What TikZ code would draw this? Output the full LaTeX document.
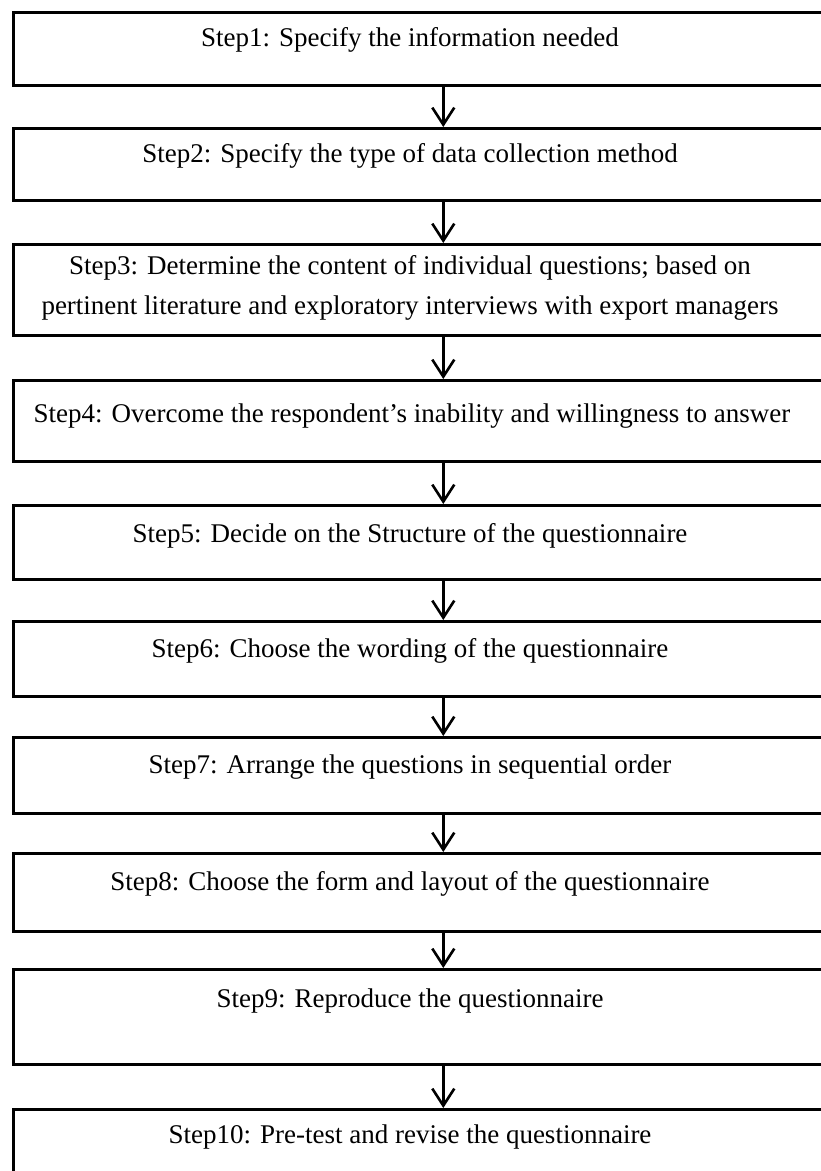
\documentclass[tikz,border=0pt]{standalone}
\usepackage{fontspec}
\setmainfont{Liberation Serif}
\usetikzlibrary{arrows.meta}
\begin{document}
\begin{tikzpicture}[x=1pt,y=-1pt,
  stepbox/.style={draw=black, line width=2.6pt, minimum width=860pt, inner sep=0pt},
  steplabel/.style={font=\fontsize{27}{40}\selectfont, align=center, inner sep=0pt},
  flow/.style={line width=2.6pt, -{Straight Barb[length=17pt,width=22pt]}}]
\useasboundingbox (0,0) rectangle (820,1171);
% boxes: (name, top, bottom)
\foreach \n/\t/\b in {1/11/84, 2/127/199, 3/243/334, 4/379/460, 5/504/578,
                      6/620/695, 7/736/812, 8/852/930, 9/968/1063, 10/1108/1200}{
  \node[stepbox, minimum height={\b-\t}, anchor=north west] (s\n) at (12,\t) {};
}
\node[steplabel] (t1) at (410,40) {Step1: Specify the information needed};
\node[steplabel] (t2) at (410,156) {Step2: Specify the type of data collection method};
\node[steplabel] (t3) at (410,288) {Step3: Determine the content of individual questions; based on\\pertinent literature and exploratory interviews with export managers};
\node[steplabel] (t4) at (412,416) {Step4: Overcome the respondent’s inability and willingness to answer};
\node[steplabel] (t5) at (410,536) {Step5: Decide on the Structure of the questionnaire};
\node[steplabel] (t6) at (410,651) {Step6: Choose the wording of the questionnaire};
\node[steplabel] (t7) at (410,767) {Step7: Arrange the questions in sequential order};
\node[steplabel] (t8) at (410,884) {Step8: Choose the form and layout of the questionnaire};
\node[steplabel] (t9) at (410,1001) {Step9: Reproduce the questionnaire};
\node[steplabel] (t10) at (410,1137) {Step10: Pre-test and revise the questionnaire};
% connectors
\foreach \a/\b in {1/2,2/3,3/4,4/5,5/6,6/7,7/8,8/9,9/10}{
  \draw[flow] (s\a.south) -- (s\b.north);
}
\end{tikzpicture}
\end{document}
